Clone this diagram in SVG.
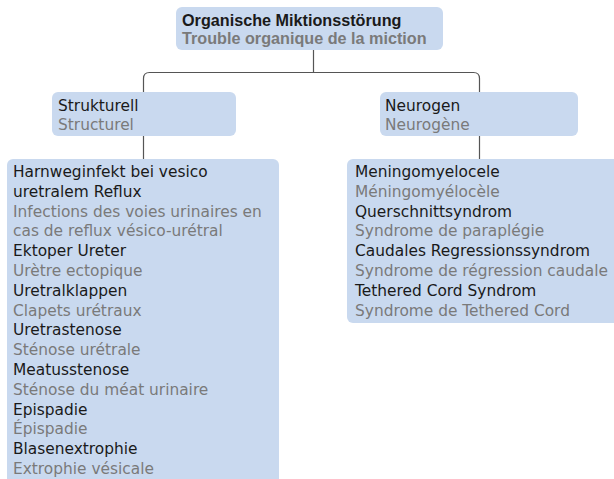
<svg xmlns="http://www.w3.org/2000/svg" width="614" height="479" viewBox="0 0 614 479">
<style>
.box{fill:#c9d9ef}
text{font-family:"DejaVu Sans","Liberation Sans",Arial,sans-serif;font-size:15.4px}
.k{fill:#1a1a1a}
.g{fill:#7a7a7a}
.b{font-family:"Liberation Sans",Arial,sans-serif;font-weight:bold;font-size:16.2px}
.c{fill:none;stroke:#555;stroke-width:1.2}
</style>
<rect width="614" height="479" fill="#fff"/>
<g id="connectors">
<path class="c" d="M313.5,50 V72.5 M143.5,92 V78.5 Q143.5,72.5 149.5,72.5 H473.5 Q479.5,72.5 479.5,78.5 V92"/>
<path class="c" d="M143.5,136 V159 M479.5,136 V159"/>
</g>
<g id="root">
<rect class="box" x="176" y="7" width="267" height="43" rx="6"/>
<text class="k b" x="182" y="26">Organische Miktionsstörung</text>
<text class="g b" x="182" y="44">Trouble organique de la miction</text>
</g>
<g id="strukturell">
<rect class="box" x="52" y="92" width="184" height="44" rx="6"/>
<text class="k" x="58" y="111">Strukturell</text>
<text class="g" x="58" y="130">Structurel</text>
</g>
<g id="neurogen">
<rect class="box" x="380" y="92" width="198" height="44" rx="6"/>
<text class="k" x="385" y="111">Neurogen</text>
<text class="g" x="385" y="130">Neurogène</text>
</g>
<g id="structural-list">
<rect class="box" x="7" y="159" width="272" height="330" rx="6"/>
<text class="k" x="13" y="177">Harnweginfekt bei vesico</text>
<text class="k" x="13" y="196.8">uretralem Reflux</text>
<text class="g" x="13" y="216.6">Infections des voies urinaires en</text>
<text class="g" x="13" y="236.4">cas de reflux vésico-urétral</text>
<text class="k" x="13" y="256.2">Ektoper Ureter</text>
<text class="g" x="13" y="276">Urètre ectopique</text>
<text class="k" x="13" y="295.8">Uretralklappen</text>
<text class="g" x="13" y="315.6">Clapets urétraux</text>
<text class="k" x="13" y="335.4">Uretrastenose</text>
<text class="g" x="13" y="355.2">Sténose urétrale</text>
<text class="k" x="13" y="375">Meatusstenose</text>
<text class="g" x="13" y="394.8">Sténose du méat urinaire</text>
<text class="k" x="13" y="414.6">Epispadie</text>
<text class="g" x="13" y="434.4">Épispadie</text>
<text class="k" x="13" y="454.2">Blasenextrophie</text>
<text class="g" x="13" y="474">Extrophie vésicale</text>
</g>
<g id="neurogenic-list">
<rect class="box" x="347" y="159" width="280" height="164" rx="6"/>
<text class="k" x="355" y="177">Meningomyelocele</text>
<text class="g" x="355" y="196.8">Méningomyélocèle</text>
<text class="k" x="355" y="216.6">Querschnittsyndrom</text>
<text class="g" x="355" y="236.4">Syndrome de paraplégie</text>
<text class="k" x="355" y="256.2">Caudales Regressionssyndrom</text>
<text class="g" x="355" y="276">Syndrome de régression caudale</text>
<text class="k" x="355" y="295.8">Tethered Cord Syndrom</text>
<text class="g" x="355" y="315.6">Syndrome de Tethered Cord</text>
</g>
</svg>
